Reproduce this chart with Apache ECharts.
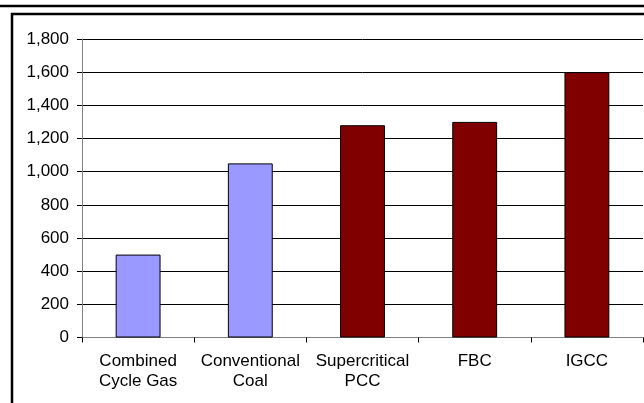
<!DOCTYPE html>
<html>
<head>
<meta charset="utf-8">
<script src="https://cdn.jsdelivr.net/npm/echarts@6/dist/echarts.min.js"></script>
<style>
  html, body { margin: 0; padding: 0; background: #fff; }
  #chart { width: 644px; height: 403px; }
</style>
</head>
<body>
<div id="chart"></div>
<script>
// Plant types along the horizontal axis
const categories = ['Combined\nCycle Gas', 'Conventional\nCoal', 'Supercritical\nPCC', 'FBC', 'IGCC'];
// Bar heights
const values = [500, 1050, 1280, 1300, 1600];
// Bar fills: gas and conventional coal in lavender, advanced coal in maroon
const barColors = ['#9999FF', '#9999FF', '#800000', '#800000', '#800000'];
// Value axis ticks
const yTicks = [0, 200, 400, 600, 800, 1000, 1200, 1400, 1600, 1800];

const font = 'Liberation Sans, Arial, sans-serif';

const chart = echarts.init(document.getElementById('chart'), null, { renderer: 'canvas' });

chart.setOption({
  animation: false,
  backgroundColor: '#fff',
  grid: { left: 82, right: 1, top: 39, bottom: 65.5, containLabel: false },
  xAxis: {
    type: 'category',
    data: categories,
    boundaryGap: true,
    axisLine: { lineStyle: { color: '#808080', width: 1 } },
    axisTick: { show: true, length: 5, alignWithLabel: false, lineStyle: { color: '#000' } },
    axisLabel: { color: '#000', fontFamily: font, fontSize: 17, lineHeight: 20, margin: 14, interval: 0 },
    splitLine: { show: false }
  },
  yAxis: {
    type: 'value',
    min: yTicks[0],
    max: yTicks[yTicks.length - 1],
    interval: yTicks[1] - yTicks[0],
    axisLine: { show: true, lineStyle: { color: '#808080', width: 1 } },
    axisTick: { show: true, length: 5, lineStyle: { color: '#000' } },
    axisLabel: {
      color: '#000', fontFamily: font, fontSize: 17, margin: 13,
      formatter: v => v.toLocaleString('en-US')
    },
    splitLine: { show: true, lineStyle: { color: '#000', width: 1 } }
  },
  series: [{
    type: 'bar',
    barWidth: '40%',
    data: values.map((v, i) => ({
      value: v,
      itemStyle: { color: barColors[i], borderColor: '#000', borderWidth: 1 }
    }))
  }],
  graphic: [
    // rule across the top of the page
    { type: 'line', shape: { x1: 0, y1: 6, x2: 644, y2: 6 }, style: { stroke: '#000', lineWidth: 2.5 }, z: 10 },
    // frame around the chart area
    { type: 'rect', shape: { x: 12, y: 14, width: 700, height: 450 }, style: { fill: 'none', stroke: '#000', lineWidth: 2.5 }, z: 10 }
  ]
});
</script>
</body>
</html>
